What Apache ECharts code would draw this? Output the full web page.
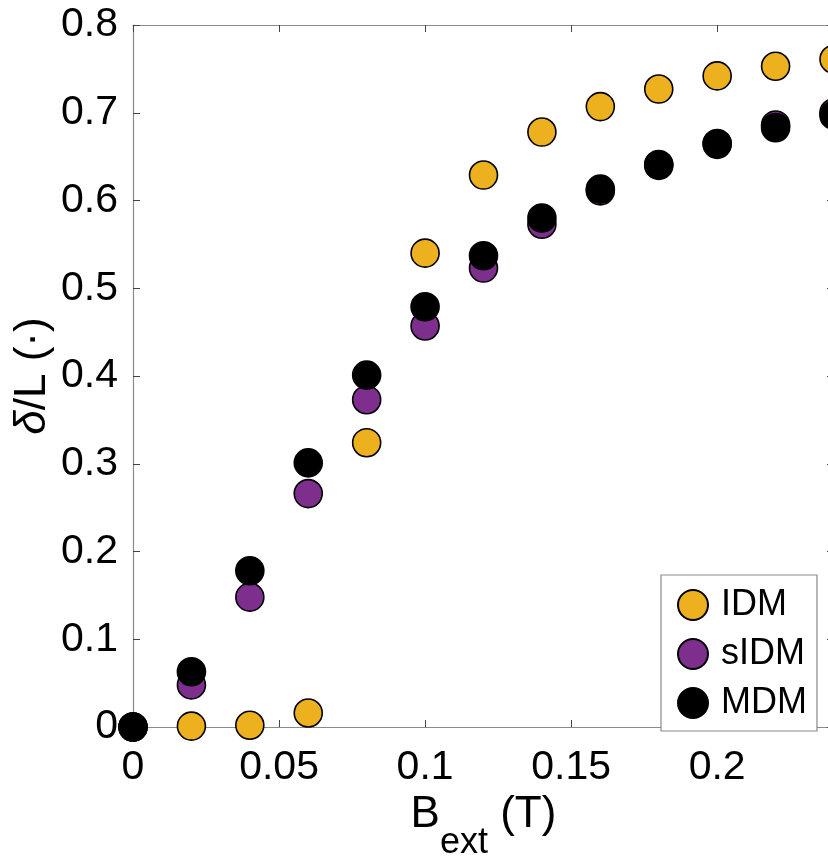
<!DOCTYPE html>
<html>
<head>
<meta charset="utf-8">
<script src="https://cdn.jsdelivr.net/npm/echarts@6/dist/echarts.min.js"></script>
<style>
html,body{margin:0;padding:0;overflow:hidden;background:#fff;}
#c{width:840px;height:859px;}
</style>
</head>
<body>
<div id="c"></div>
<script>
const bField = [0, 0.02, 0.04, 0.06, 0.08, 0.10, 0.12, 0.14, 0.16, 0.18, 0.20, 0.22, 0.24];
const idm  = [0, 0.001, 0.002, 0.016, 0.324, 0.540, 0.629, 0.678, 0.707, 0.727, 0.742, 0.753, 0.761];
const sidm = [0, 0.048, 0.148, 0.266, 0.373, 0.457, 0.523, 0.573, 0.611, 0.640, 0.664, 0.686, 0.700];
const mdm  = [0, 0.063, 0.178, 0.301, 0.401, 0.479, 0.537, 0.580, 0.613, 0.641, 0.665, 0.683, 0.697];
const seriesNames = ['IDM', 'sIDM', 'MDM'];
const seriesColors = ['#EDB120', '#7E2F8E', '#000000'];
const xTicks = {min: 0, max: 0.24, interval: 0.05};
const yTicks = {min: 0, max: 0.8, interval: 0.1};

const FONT = 'Liberation Sans, Arial, Helvetica, sans-serif';
const lineColor = '#8a8a8a';
const tickColor = '#444';

function pairs(ys){ return bField.map((x,i)=>[x, ys[i]]); }
const allData = [idm, sidm, mdm];

const chart = echarts.init(document.getElementById('c'), null, {renderer:'canvas'});
chart.setOption({
  animation: false,
  backgroundColor: '#fff',
  textStyle: {fontFamily: FONT, color: '#000'},
  grid: {left: 133, right: 6, top: 25, bottom: 132, show: false, containLabel: false, outerBoundsMode: 'none'},
  legend: {
    orient: 'vertical',
    left: 661, top: 575,
    data: seriesNames,
    icon: 'circle',
    itemWidth: 30, itemHeight: 30, itemGap: 13,
    padding: [12, 10, 10, 16],
    borderColor: '#8a8a8a', borderWidth: 1.2, borderRadius: 0,
    backgroundColor: '#fff',
    textStyle: {fontFamily: FONT, fontSize: 36, color: '#000', padding:[0,0,0,8]}
  },
  xAxis: [{
    type: 'value', min: xTicks.min, max: xTicks.max, interval: xTicks.interval,
    position: 'bottom',
    axisLine: {show: true, onZero: false, lineStyle: {color: lineColor, width: 1.2}},
    axisTick: {show: true, inside: true, length: 7, lineStyle: {color: tickColor}},
    axisLabel: {fontSize: 41, color: '#000', fontFamily: FONT, margin: 20, showMaxLabel: false},
    splitLine: {show: false},
    name: '{b|B}{s|ext}{b| (T)}',
    nameLocation: 'middle', nameGap: 63, nameMoveOverlap: false,
    nameTextStyle: {
      rich: {
        b: {fontSize: 44, fontFamily: FONT, color: '#000', lineHeight: 50},
        s: {fontSize: 36, fontFamily: FONT, color: '#000', lineHeight: 10, padding: [56, 0, 0, 0]}
      }
    }
  }, {
    type: 'value', min: xTicks.min, max: xTicks.max, interval: xTicks.interval,
    position: 'top',
    axisLine: {show: true, onZero: false, lineStyle: {color: lineColor, width: 1.2}},
    axisTick: {show: true, inside: true, length: 7, lineStyle: {color: tickColor}},
    axisLabel: {show: false}, splitLine: {show: false}
  }],
  yAxis: [{
    type: 'value', min: yTicks.min, max: yTicks.max, interval: yTicks.interval,
    position: 'left',
    axisLine: {show: true, onZero: false, lineStyle: {color: lineColor, width: 1.2}},
    axisTick: {show: true, inside: true, length: 7, lineStyle: {color: tickColor}},
    axisLabel: {fontSize: 41, color: '#000', fontFamily: FONT, margin: 15},
    splitLine: {show: false},
    name: '{i|δ}{n|/L (·)}',
    nameLocation: 'middle', nameGap: 75, nameRotate: 90, nameMoveOverlap: false,
    nameTextStyle: {
      rich: {
        i: {fontSize: 44, fontStyle: 'italic', fontFamily: FONT, color: '#000', lineHeight: 50},
        n: {fontSize: 44, fontFamily: FONT, color: '#000', lineHeight: 50}
      }
    }
  }, {
    type: 'value', min: yTicks.min, max: yTicks.max, interval: yTicks.interval,
    position: 'right',
    axisLine: {show: true, onZero: false, lineStyle: {color: lineColor, width: 1.2}},
    axisTick: {show: true, inside: true, length: 7, lineStyle: {color: tickColor}},
    axisLabel: {show: false}, splitLine: {show: false}
  }],
  series: seriesNames.map((n, k) => ({
    name: n, type: 'scatter', xAxisIndex: 0, yAxisIndex: 0,
    data: pairs(allData[k]),
    symbol: 'circle', symbolSize: 28, clip: false,
    z: 2 + k,
    itemStyle: {color: seriesColors[k], borderColor: '#000', borderWidth: 1.6, opacity: 1},
    emphasis: {disabled: true}
  }))
});
</script>
</body>
</html>
